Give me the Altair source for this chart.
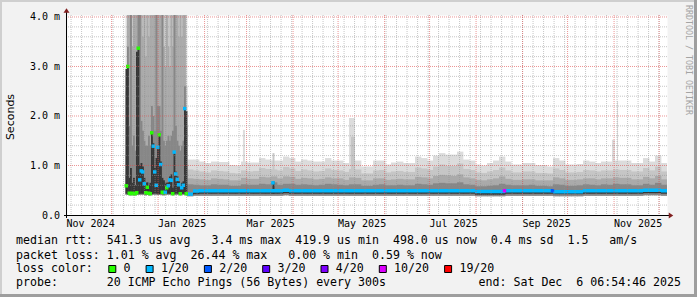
import altair as alt
import pandas as pd

# ---------------- time frame ----------------
START = pd.Timestamp("2024-11-01 06:54:46")
END = pd.Timestamp("2025-12-06 06:54:46")


def to_day(ts):
    return (pd.Timestamp(ts) - START).total_seconds() / 86400.0


X_MAX = to_day(END)
Y_MAX = 4.04
CLIP_TOP = 4.2

# ---------------- axis labels ----------------
y_tick_values = [0, 1, 2, 3, 4]
month_labels = ["Nov 2024", "Jan 2025", "Mar 2025", "May 2025", "Jul 2025", "Sep 2025", "Nov 2025"]
month_label_dates = ["2024-11-17", "2025-01-17", "2025-03-17", "2025-05-17",
                     "2025-07-17", "2025-09-17", "2025-11-17"]

# ---------------- loss colours ----------------
loss_labels = ["0", "1/20", "2/20", "3/20", "4/20", "10/20", "19/20"]
loss_colors = ["#26ff00", "#00b8ff", "#0059ff", "#5e00ff", "#7e00ff", "#dd00ff", "#ff0000"]

# smoke shades, light -> dark
shades = ["#dcdcdc", "#c6c6c6", "#aaaaaa", "#878787", "#363636"]

# ---------------- turbulent period (1-day bins) ----------------
chaos_first_bin = "2024-12-10 06:54:46"
chaos_bin_days = 1.0
chaos_low_outer = [0.41, 0.41, 0.40, 0.40, 0.41, 0.40, 0.40, 0.41, 0.41, 0.41,
                   0.41, 0.41, 0.41, 0.40, 0.41, 0.40, 0.40, 0.41, 0.41, 0.41,
                   0.41, 0.41, 0.41, 0.41, 0.40, 0.40, 0.41, 0.41, 0.41, 0.41,
                   0.41, 0.40, 0.41, 0.41, 0.41, 0.41, 0.40, 0.41, 0.41, 0.41,
                   0.40]
chaos_low_inner = [0.43, 0.42, 0.42, 0.42, 0.42, 0.42, 0.42, 0.43, 0.42, 0.43,
                   0.43, 0.43, 0.43, 0.42, 0.43, 0.42, 0.42, 0.42, 0.43, 0.43,
                   0.43, 0.42, 0.42, 0.43, 0.42, 0.42, 0.43, 0.43, 0.43, 0.43,
                   0.43, 0.42, 0.42, 0.43, 0.43, 0.43, 0.42, 0.43, 0.43, 0.42,
                   0.42]
chaos_top2 = [2.5, 4.2, 4.2, 4.2, 4.2, 4.2, 4.2, 4.2, 4.2, 4.2,
              4.2, 4.2, 4.2, 4.2, 4.2, 4.2, 4.2, 4.2, 4.2, 4.2,
              4.2, 4.2, 4.2, 4.2, 4.2, 4.2, 4.2, 4.2, 4.2, 4.2,
              4.2, 4.2, 4.2, 4.2, 4.2, 4.2, 4.2, 4.2, 4.2, 4.2,
              2.6]
chaos_top3 = [1.2, 4.2, 4.2, 4.2, 3.4, 4.2, 4.2, 4.2, 4.2, 4.2,
              4.2, 3.6, 4.2, 3.2, 4.2, 3.6, 4.2, 4.2, 4.2, 4.2,
              4.2, 4.2, 4.2, 4.2, 4.2, 3.4, 3.0, 4.2, 3.4, 3.0,
              4.2, 3.4, 4.2, 4.2, 4.2, 3.6, 4.2, 3.6, 4.2, 4.2,
              1.8]
chaos_top4 = [0.80, 3.40, 1.80, 4.20, 1.40, 1.60, 1.30, 2.20, 4.20, 4.20,
              1.90, 1.70, 1.50, 1.40, 1.40, 1.60, 1.40, 2.20, 2.00, 1.70,
              4.20, 2.20, 2.20, 1.70, 4.20, 1.50, 1.40, 1.50, 1.60, 1.50,
              1.60, 1.70, 4.20, 1.80, 1.50, 1.40, 1.30, 1.40, 1.50, 2.60,
              1.00]
chaos_dark = [2.95, 3.00, 0.75, 0.95, 0.65, 0.75, 0.60, 3.30, 3.37, 1.00,
              1.05, 0.98, 0.75, 0.65, 0.66, 0.60, 0.65, 1.66, 1.45, 0.95,
              1.15, 1.37, 1.62, 1.08, 0.75, 0.70, 0.65, 0.65, 0.66, 0.78,
              0.82, 0.55, 1.27, 0.88, 0.78, 0.68, 0.55, 0.65, 0.68, 2.15,
              2.10]
chaos_median = [0.59, 3.00, 0.44, 0.43, 0.44, 0.43, 0.43, 0.45, 3.37, 0.71,
                0.89, 0.87, 0.63, 0.45, 0.56, 0.44, 0.43, 1.66, 1.39, 0.87,
                0.60, 1.37, 1.62, 1.02, 0.46, 0.45, 0.46, 0.55, 0.59, 0.71,
                0.70, 0.43, 1.27, 0.83, 0.72, 0.61, 0.43, 0.55, 0.60, 2.15,
                0.43]
chaos_loss = ["0", "0", "0", "0", "0", "0", "0", "0", "0", "1/20",
              "1/20", "1/20", "1/20", "0", "0", "0", "0", "0", "1/20", "1/20",
              "1/20", "1/20", "0", "1/20", "0", "0", "1/20", "0", "1/20", "1/20",
              "1/20", "0", "1/20", "1/20", "1/20", "1/20", "0", "1/20", "1/20", "1/20",
              "0"]

# ---------------- steady period (4-day bins) ----------------
steady_first_bin = "2025-01-20 06:54:46"
steady_bin_days = 4.0
steady_low_outer = [0.38, 0.39, 0.39, 0.39, 0.39, 0.39, 0.39, 0.39, 0.39, 0.39,
                    0.39, 0.39, 0.39, 0.39, 0.39, 0.39, 0.40, 0.39, 0.39, 0.39,
                    0.39, 0.39, 0.39, 0.39, 0.39, 0.39, 0.39, 0.39, 0.39, 0.39,
                    0.39, 0.39, 0.39, 0.39, 0.39, 0.39, 0.39, 0.39, 0.39, 0.39,
                    0.39, 0.39, 0.39, 0.39, 0.39, 0.39, 0.39, 0.39, 0.38, 0.38,
                    0.38, 0.38, 0.38, 0.39, 0.39, 0.39, 0.39, 0.39, 0.39, 0.39,
                    0.39, 0.38, 0.38, 0.38, 0.38, 0.38, 0.39, 0.39, 0.39, 0.39,
                    0.39, 0.39, 0.39, 0.39, 0.39, 0.39, 0.40, 0.40, 0.40, 0.39]
steady_low_inner = [0.40, 0.42, 0.43, 0.43, 0.43, 0.43, 0.43, 0.43, 0.43, 0.43,
                    0.43, 0.43, 0.43, 0.43, 0.43, 0.43, 0.44, 0.43, 0.43, 0.43,
                    0.43, 0.43, 0.43, 0.43, 0.43, 0.43, 0.43, 0.43, 0.43, 0.43,
                    0.43, 0.43, 0.43, 0.43, 0.43, 0.43, 0.43, 0.43, 0.43, 0.43,
                    0.43, 0.43, 0.43, 0.43, 0.43, 0.43, 0.43, 0.43, 0.41, 0.41,
                    0.41, 0.41, 0.41, 0.43, 0.43, 0.43, 0.43, 0.43, 0.43, 0.43,
                    0.43, 0.42, 0.42, 0.42, 0.42, 0.42, 0.43, 0.43, 0.43, 0.43,
                    0.43, 0.43, 0.43, 0.43, 0.43, 0.43, 0.44, 0.44, 0.44, 0.43]
steady_p1 = [1.12, 1.12, 1.08, 1.05, 1.08, 1.07, 1.07, 1.01, 1.00, 1.08,
             1.06, 1.06, 1.15, 1.12, 1.10, 1.10, 1.18, 1.15, 1.08, 1.12,
             1.10, 1.08, 1.08, 1.15, 1.10, 1.10, 1.05, 1.10, 1.10, 0.98,
             0.98, 1.10, 1.10, 1.02, 1.06, 1.08, 1.05, 1.05, 1.18, 1.15,
             1.10, 1.20, 1.25, 1.22, 1.22, 1.28, 1.12, 1.10, 1.02, 1.00,
             1.05, 1.10, 1.18, 1.08, 1.02, 1.02, 1.05, 1.05, 1.01, 1.01,
             0.98, 1.15, 1.10, 1.02, 1.02, 1.03, 1.10, 1.08, 1.05, 1.08,
             1.08, 1.10, 1.10, 1.10, 1.05, 1.05, 1.15, 1.08, 1.20, 1.05]
steady_p2 = [0.92, 0.90, 0.88, 0.86, 0.90, 0.89, 0.88, 0.85, 0.84, 0.90,
             0.88, 0.89, 0.95, 0.93, 0.92, 0.90, 0.97, 0.94, 0.89, 0.92,
             0.90, 0.88, 0.89, 0.94, 0.91, 0.90, 0.87, 0.93, 0.92, 0.84,
             0.84, 0.90, 0.91, 0.86, 0.88, 0.89, 0.87, 0.87, 0.96, 0.94,
             0.91, 0.98, 1.02, 0.99, 0.99, 1.04, 0.93, 0.91, 0.86, 0.85,
             0.88, 0.91, 0.96, 0.90, 0.86, 0.86, 0.88, 0.88, 0.85, 0.85,
             0.84, 0.94, 0.91, 0.86, 0.86, 0.87, 0.91, 0.90, 0.88, 0.90,
             0.90, 0.92, 0.91, 0.91, 0.88, 0.88, 0.95, 0.90, 0.98, 0.88]
steady_p3 = [0.74, 0.73, 0.72, 0.71, 0.74, 0.73, 0.72, 0.70, 0.70, 0.75,
             0.73, 0.73, 0.77, 0.76, 0.78, 0.74, 0.78, 0.77, 0.73, 0.75,
             0.74, 0.72, 0.73, 0.76, 0.74, 0.74, 0.71, 0.76, 0.75, 0.70,
             0.70, 0.74, 0.74, 0.71, 0.72, 0.73, 0.72, 0.72, 0.77, 0.76,
             0.74, 0.79, 0.81, 0.80, 0.79, 0.82, 0.76, 0.74, 0.71, 0.70,
             0.72, 0.74, 0.78, 0.73, 0.71, 0.71, 0.72, 0.72, 0.70, 0.70,
             0.70, 0.76, 0.74, 0.71, 0.71, 0.72, 0.74, 0.74, 0.72, 0.74,
             0.74, 0.76, 0.75, 0.75, 0.72, 0.72, 0.77, 0.74, 0.79, 0.72]
steady_p4 = [0.62, 0.61, 0.60, 0.60, 0.62, 0.61, 0.61, 0.59, 0.59, 0.62,
             0.61, 0.61, 0.63, 0.62, 0.66, 0.61, 0.63, 0.63, 0.61, 0.62,
             0.61, 0.60, 0.61, 0.63, 0.62, 0.61, 0.60, 0.62, 0.62, 0.59,
             0.59, 0.61, 0.62, 0.60, 0.60, 0.61, 0.60, 0.60, 0.63, 0.62,
             0.61, 0.64, 0.65, 0.64, 0.64, 0.66, 0.62, 0.61, 0.58, 0.58,
             0.59, 0.60, 0.63, 0.61, 0.60, 0.60, 0.60, 0.61, 0.59, 0.59,
             0.58, 0.62, 0.61, 0.59, 0.59, 0.60, 0.62, 0.61, 0.60, 0.62,
             0.61, 0.63, 0.62, 0.62, 0.60, 0.60, 0.63, 0.61, 0.65, 0.61]
steady_median = [0.42, 0.485, 0.49, 0.49, 0.49, 0.49, 0.49, 0.49, 0.49, 0.49,
                 0.49, 0.49, 0.49, 0.49, 0.49, 0.49, 0.50, 0.49, 0.49, 0.49,
                 0.49, 0.49, 0.49, 0.49, 0.49, 0.49, 0.49, 0.49, 0.49, 0.49,
                 0.49, 0.49, 0.49, 0.49, 0.49, 0.49, 0.49, 0.49, 0.49, 0.49,
                 0.49, 0.49, 0.49, 0.49, 0.49, 0.49, 0.49, 0.49, 0.475, 0.475,
                 0.475, 0.475, 0.475, 0.49, 0.49, 0.49, 0.49, 0.49, 0.49, 0.49,
                 0.49, 0.47, 0.47, 0.47, 0.47, 0.47, 0.49, 0.49, 0.49, 0.49,
                 0.49, 0.49, 0.49, 0.49, 0.49, 0.49, 0.50, 0.50, 0.50, 0.49]
# loss per steady bin, one character per bin (index into loss_labels)
steady_loss_codes = ("1111111111" "1111111111" "1111111111" "1111111111"
                     "1111111111" "1111111111" "1111111111" "1111111111")

# narrow spikes in the steady period
spike_start = ["2025-02-26 14:00", "2025-03-18 07:00", "2025-03-18 07:00", "2025-05-08 07:00",
               "2025-05-09 14:00", "2025-10-30 14:00", "2025-11-02 23:00"]
spike_days = [1.3, 1.3, 1.3, 4.0, 2.7, 2.0, 0.7]
spike_top = [1.72, 1.25, 0.68, 1.96, 1.58, 1.52, 2.30]
spike_level = [0, 1, 4, 0, 1, 0, 0]

# isolated median markers in the steady period
marker_time = ["2025-03-18 14:00", "2025-08-19 23:00", "2025-09-20 23:00"]
marker_value = [0.65, 0.49, 0.49]
marker_loss = ["1/20", "10/20", "2/20"]

# ---------------- legend text ----------------
legend_rtt = "median rtt:  541.3 us avg   3.4 ms max  419.9 us min  498.0 us now  0.4 ms sd  1.5   am/s"
legend_loss = "packet loss: 1.01 % avg  26.44 % max   0.00 % min  0.59 % now"
legend_color_title = "loss color:"
legend_probe = "probe:       20 ICMP Echo Pings (56 Bytes) every 300s"
legend_end = "end: Sat Dec  6 06:54:46 2025"
watermark = "RRDTOOL / TOBI OETIKER"
y_title = "Seconds"


def nb(s):
    return s.replace(" ", "\u00a0")


# ---------------- build tables ----------------
OVER = 0.25
smoke_rows = []
c0 = to_day(chaos_first_bin)
for i in range(len(chaos_median)):
    x0 = c0 + i * chaos_bin_days
    x1 = x0 + chaos_bin_days + OVER
    lows = [chaos_low_outer[i]] * 4 + [chaos_low_inner[i]]
    tops = [CLIP_TOP, chaos_top2[i], chaos_top3[i], chaos_top4[i], chaos_dark[i]]
    for lev in range(5):
        if tops[lev] > lows[lev]:
            smoke_rows.append(dict(x0=x0, x1=x1, lo=lows[lev], hi=tops[lev], level=lev, shade=shades[lev]))

s0 = to_day(steady_first_bin)
med_rows = []
for i in range(len(steady_median)):
    x0 = s0 + i * steady_bin_days
    x1 = x0 + steady_bin_days + OVER
    lows = [steady_low_outer[i]] * 4 + [steady_low_inner[i]]
    tops = [steady_p1[i], steady_p2[i], steady_p3[i], steady_p4[i], steady_median[i]]
    for lev in range(5):
        if tops[lev] > lows[lev]:
            smoke_rows.append(dict(x0=x0, x1=x1, lo=lows[lev], hi=tops[lev], level=lev, shade=shades[lev]))
    med_rows.append(dict(x0=x0, x1=x0 + steady_bin_days, lo=steady_median[i] - 0.036,
                         hi=steady_median[i] + 0.036,
                         loss=loss_labels[int(steady_loss_codes[i])]))

for t, w, top, lev in zip(spike_start, spike_days, spike_top, spike_level):
    x0 = to_day(t)
    lo = 0.43 if lev == 4 else 0.39
    smoke_rows.append(dict(x0=x0, x1=x0 + w, lo=lo, hi=top, level=lev, shade=shades[lev]))

smoke_df = pd.DataFrame(smoke_rows).sort_values("level", kind="stable").reset_index(drop=True)
med_df = pd.DataFrame(med_rows)

marker_rows = []
for i in range(len(chaos_median)):
    marker_rows.append(dict(d=c0 + i * chaos_bin_days + 0.5, v=chaos_median[i], loss=chaos_loss[i]))
for t, v, l in zip(marker_time, marker_value, marker_loss):
    marker_rows.append(dict(d=to_day(t), v=v, loss=l))
marker_df = pd.DataFrame(marker_rows)

week_df = pd.DataFrame({"d": [to_day(t) for t in pd.date_range("2024-11-04", "2025-12-06", freq="7D")]})
month_df = pd.DataFrame({"d": [to_day(t) for t in pd.date_range("2024-12-01", "2025-12-01", freq="MS")]})
hminor_df = pd.DataFrame({"v": [k / 5 for k in range(1, 21) if k % 5 != 0]})
hmajor_df = pd.DataFrame({"v": [1, 2, 3, 4]})
xlab_df = pd.DataFrame({"d": [to_day(t) for t in month_label_dates], "t": month_labels})

# ---------------- scales / axis ----------------
xs = alt.Scale(domain=[0, X_MAX], nice=False, zero=False)
ys = alt.Scale(domain=[0, Y_MAX], nice=False, zero=False)
loss_scale = alt.Scale(domain=loss_labels, range=loss_colors)

yaxis = alt.Axis(
    values=y_tick_values,
    labelExpr="datum.value == 0 ? '0.0\u00a0\u00a0' : format(datum.value, '.1f') + '\u00a0m'",
    labelFont="DejaVu Sans Mono", labelFontSize=10, labelColor="#000000",
    labelPadding=7.5, tickSize=0, ticks=False, domain=False, grid=False,
    title=y_title, titleFont="DejaVu Sans", titleFontSize=11, titleFontWeight="normal",
    titleColor="#000000", titleAngle=270, titleX=-56.5, titleY=101.5,
    titleAlign="center", titleBaseline="middle",
)

MONO = "DejaVu Sans Mono"

smoke = alt.Chart(smoke_df).mark_rect(clip=True).encode(
    x=alt.X("x0:Q", scale=xs, axis=None),
    x2="x1:Q",
    y=alt.Y("lo:Q", scale=ys, axis=yaxis),
    y2="hi:Q",
    color=alt.Color("shade:N", scale=None),
)

median_line = alt.Chart(med_df).mark_rect(clip=True).encode(
    x=alt.X("x0:Q", scale=xs, axis=None),
    x2="x1:Q",
    y=alt.Y("lo:Q", scale=ys, axis=yaxis),
    y2="hi:Q",
    color=alt.Color("loss:N", scale=loss_scale, legend=None),
)

markers = alt.Chart(marker_df).mark_square(size=12, opacity=1, clip=True).encode(
    x=alt.X("d:Q", scale=xs, axis=None),
    y=alt.Y("v:Q", scale=ys, axis=yaxis),
    color=alt.Color("loss:N", scale=loss_scale, legend=None),
)

grid_week = alt.Chart(week_df).mark_rule(color="#8f8f8f", opacity=0.5, strokeDash=[1, 1], strokeWidth=1).encode(
    x=alt.X("d:Q", scale=xs, axis=None))
grid_month = alt.Chart(month_df).mark_rule(color="#de4f4f", opacity=0.6, strokeDash=[1, 1], strokeWidth=1).encode(
    x=alt.X("d:Q", scale=xs, axis=None))
grid_hminor = alt.Chart(hminor_df).mark_rule(color="#8f8f8f", opacity=0.5, strokeDash=[1, 1], strokeWidth=1).encode(
    y=alt.Y("v:Q", scale=ys, axis=yaxis))
grid_hmajor = alt.Chart(hmajor_df).mark_rule(color="#de4f4f", opacity=0.6, strokeDash=[1, 1], strokeWidth=1).encode(
    y=alt.Y("v:Q", scale=ys, axis=yaxis))

one = pd.DataFrame({"k": [0]})

x_axis_line = alt.Chart(one).mark_rule(color="#000000", strokeWidth=1).encode(
    x=alt.value(-3), x2=alt.value(602), y=alt.value(200.5))
y_axis_line = alt.Chart(one).mark_rule(color="#000000", strokeWidth=1).encode(
    x=alt.value(-0.5), y=alt.value(-4), y2=alt.value(203))
arrow_up = alt.Chart(one).mark_point(shape="M-1,0.75L1,0.75L0,-0.75Z", size=36, filled=True,
                                     color="#801f1f", opacity=1).encode(
    x=alt.value(-0.5), y=alt.value(-4.5))
arrow_right = alt.Chart(one).mark_point(shape="M-0.75,-1L-0.75,1L0.75,0Z", size=36, filled=True,
                                        color="#801f1f", opacity=1).encode(
    x=alt.value(604), y=alt.value(200.5))

x_labels = alt.Chart(xlab_df).mark_text(font=MONO, fontSize=10, align="center", baseline="middle",
                                        color="#000000").encode(
    x=alt.X("d:Q", scale=xs, axis=None), y=alt.value(209), text="t:N")


def text_layer(s, px, py, align="left", size=11.6, color="#000000", angle=0, font=MONO):
    kw = dict(font=font, fontSize=size, align=align, baseline="middle", color=color)
    if angle:
        kw["angle"] = angle
    return alt.Chart(pd.DataFrame({"t": [nb(s)]})).mark_text(**kw).encode(
        x=alt.value(px), y=alt.value(py), text="t:N")


CW = 7.0
LX = 16 - 67
texts = [
    text_layer(legend_rtt, LX, 226),
    text_layer(legend_loss, LX, 240.5),
    text_layer(legend_color_title, LX, 254),
    text_layer(legend_probe, LX, 268.3),
    text_layer(legend_end, 681 - 67, 268.3, align="right"),
    text_layer(watermark, 688 - 67, 45, align="center", size=8.3, color="#a4a4a4", angle=90),
]

# legend colour boxes
boxes = []
bx = 108.3
for lab, col in zip(loss_labels, loss_colors):
    boxes.append(alt.Chart(one).mark_rect(color=col, stroke="#000000", strokeWidth=1).encode(
        x=alt.value(bx - 67 + 0.5), x2=alt.value(bx - 67 + 7.5),
        y=alt.value(250.5), y2=alt.value(257.5)))
    tx = bx + 15.3
    texts.append(text_layer(lab, tx - 67, 254))
    bx = tx + len(lab) * CW + 15

# outer frame (3D border)
frame = [
    alt.Chart(one).mark_rect(color="#cfcfcf").encode(x=alt.value(-67), x2=alt.value(630), y=alt.value(-15), y2=alt.value(-13)),
    alt.Chart(one).mark_rect(color="#cfcfcf").encode(x=alt.value(-67), x2=alt.value(-65), y=alt.value(-15), y2=alt.value(282)),
    alt.Chart(one).mark_rect(color="#9e9e9e").encode(x=alt.value(-67), x2=alt.value(630), y=alt.value(279), y2=alt.value(282)),
    alt.Chart(one).mark_rect(color="#9e9e9e").encode(x=alt.value(627), x2=alt.value(630), y=alt.value(-15), y2=alt.value(282)),
]

layers = [smoke, median_line, markers, grid_week, grid_month, grid_hminor, grid_hmajor,
          x_axis_line, y_axis_line, arrow_up, arrow_right, x_labels] + texts + boxes + frame

chart = alt.layer(*layers).properties(
    width=600, height=200,
    padding={"left": 67, "top": 15, "right": 30, "bottom": 82},
    autosize=alt.AutoSizeParams(type="none"),
    background="#f2f2f2",
).configure_view(fill="#ffffff", stroke="transparent")

chart.save("out.html", embed_options={"renderer": "svg", "actions": False})
